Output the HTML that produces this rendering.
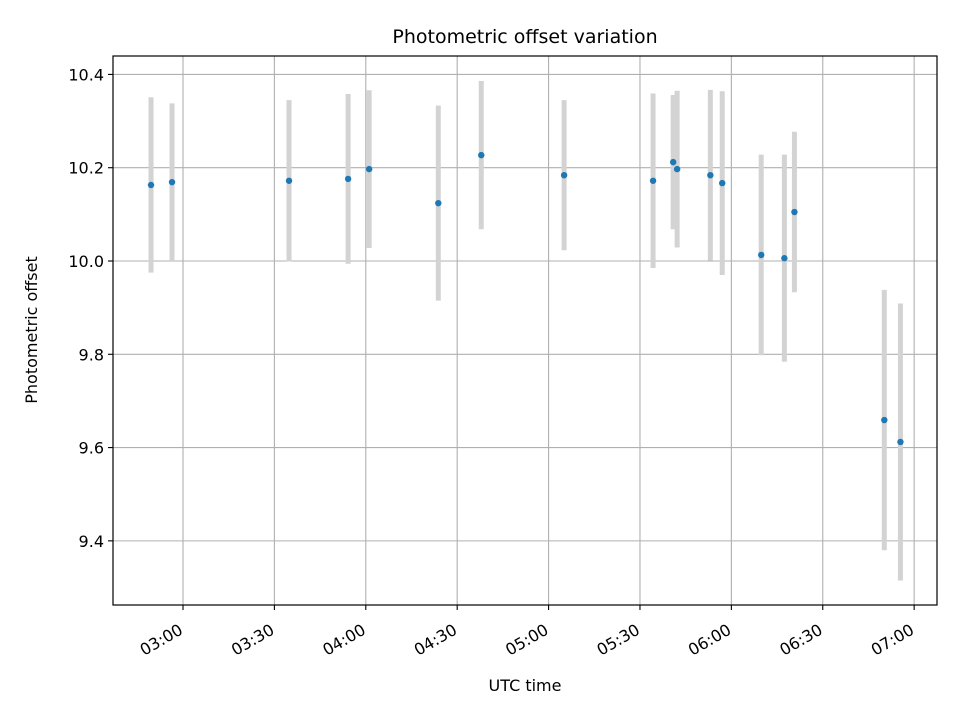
<!DOCTYPE html>
<html><head><meta charset="utf-8"><style>
body{margin:0;background:#fff;}
svg{display:block;font-family:"DejaVu Sans","Liberation Sans",sans-serif;}
</style></head><body>
<svg id="chart" width="960" height="720" viewBox="0 0 960 720" xmlns="http://www.w3.org/2000/svg">
<rect width="960" height="720" fill="#fff"/>
<g id="grid"></g>
<g id="errs"></g>
<g id="pts"></g>
<rect x="113" y="56" width="824" height="549" fill="none" stroke="#000" stroke-width="1.2"/>
<g id="axes"></g>
<text x="525" y="43" text-anchor="middle" font-size="19">Photometric offset variation</text>
<text x="525" y="691" text-anchor="middle" font-size="16">UTC time</text>
<text transform="translate(37,330) rotate(-90)" text-anchor="middle" font-size="16">Photometric offset</text>
</svg>
<script>
// minutes after 03:00 UTC
const times=[-10.5,-3.6,34.8,54.2,61.1,83.8,97.9,125.1,154.3,160.9,162.2,173.1,177.0,189.8,197.4,200.7,230.2,235.5];
const offsets=[10.163,10.169,10.172,10.176,10.197,10.124,10.227,10.184,10.172,10.212,10.197,10.184,10.167,10.013,10.006,10.105,9.659,9.612];
const errors=[0.188,0.169,0.173,0.182,0.169,0.209,0.159,0.161,0.187,0.144,0.168,0.183,0.197,0.215,0.222,0.172,0.279,0.297];
const xTickMinutes=[0,30,60,90,120,150,180,210,240];
const xTickLabels=["03:00","03:30","04:00","04:30","05:00","05:30","06:00","06:30","07:00"];
const yTicks=[9.4,9.6,9.8,10.0,10.2,10.4];
const yTickLabels=["9.4","9.6","9.8","10.0","10.2","10.4"];

const L=113,R=937,T=56,B=605;
const xMin=-22.98,xMax=247.5,yMin=9.2625,yMax=10.4395;
const sx=v=>L+(v-xMin)/(xMax-xMin)*(R-L);
const sy=v=>B-(v-yMin)/(yMax-yMin)*(B-T);
const NS="http://www.w3.org/2000/svg";
function mk(tag,attrs,parent){const e=document.createElementNS(NS,tag);for(const k in attrs)e.setAttribute(k,attrs[k]);parent.appendChild(e);return e;}
const grid=document.getElementById('grid'),axes=document.getElementById('axes'),errs=document.getElementById('errs'),pts=document.getElementById('pts');
xTickMinutes.forEach((m,i)=>{
  const x=sx(m);
  const g=mk('line',{x1:x,x2:x,y1:T,y2:B,stroke:'#b0b0b0','stroke-width':1.1},grid);
  
  
  const t=mk('line',{x1:x,x2:x,y1:B,y2:B+5,stroke:'#000','stroke-width':1.1},axes);
  
  
  const ax=x+1,ay=B+28;
  const lb=mk('text',{x:ax,y:ay,'text-anchor':'end','font-size':16,transform:`rotate(-30 ${ax} ${ay})`},axes);
  lb.textContent=xTickLabels[i];
  
  
});
yTicks.forEach((v,i)=>{
  const y=sy(v);
  const g=mk('line',{x1:L,x2:R,y1:y,y2:y,stroke:'#b0b0b0','stroke-width':1.1},grid);
  
  
  const t=mk('line',{x1:L-5,x2:L,y1:y,y2:y,stroke:'#000','stroke-width':1.1},axes);
  
  
  const lb=mk('text',{x:L-9,y:y+6,'text-anchor':'end','font-size':16},axes);
  lb.textContent=yTickLabels[i];
  
  
});
times.forEach((m,i)=>{
  const x=sx(m);
  const e=mk('line',{x1:x,x2:x,y1:sy(offsets[i]+errors[i]),y2:sy(offsets[i]-errors[i]),stroke:'#d3d3d3','stroke-width':5},errs);
  
  
  const p=mk('circle',{cx:x,cy:sy(offsets[i]),r:3.2,fill:'#1f77b4'},pts);
  
  
});
</script>
</body></html>
